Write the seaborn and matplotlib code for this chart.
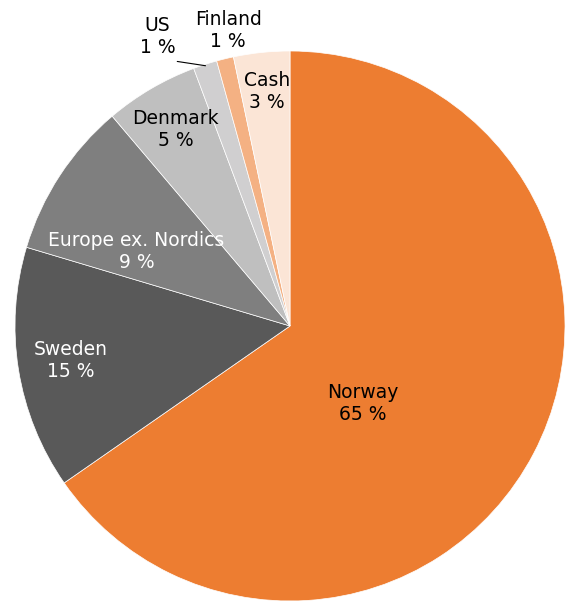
import matplotlib
matplotlib.use("Agg")
import matplotlib.pyplot as plt
import seaborn as sns
import numpy as np

# --- data ---
regions = ['Norway', 'Sweden', 'Europe ex. Nordics', 'Denmark', 'US', 'Finland', 'Cash']
shares = [65.4, 14.3, 9.2, 5.5, 1.4, 1.0, 3.3]
share_labels = ['65 %', '15 %', '9 %', '5 %', '1 %', '1 %', '3 %']
colors = ['#ED7D31', '#595959', '#7F7F7F', '#BFBFBF', '#D0CFD0', '#F4B183', '#FBE5D6']
text_colors = ['black', 'white', 'white', 'black', 'black', 'black', 'black']

# label centres in pie units (radius = 1)
label_pos = [(0.264, -0.283), (-0.797, -0.127), (-0.558, 0.272), (-0.417, 0.714),
             (-0.482, 1.051), (-0.225, 1.076), (-0.083, 0.851)]

sns.set_theme(style='white')
plt.rcParams['font.family'] = ['DejaVu Sans']

fig = plt.figure(figsize=(5.69, 6.06), dpi=100)
ax = fig.add_axes([15 / 569, 4 / 606, 550 / 569, 552 / 606])

wedges, _ = ax.pie(shares, colors=colors, startangle=90, counterclock=False,
                   radius=1.0, wedgeprops=dict(edgecolor='white', linewidth=0.5))

for name, lab, (x, y), c in zip(regions, share_labels, label_pos, text_colors):
    ax.text(x, y, f'{name}\n{lab}', ha='center', va='center', color=c,
            fontsize=13.5, linespacing=1.2)

# leader line for the US slice
us = wedges[regions.index('US')]
mid = np.deg2rad((us.theta1 + us.theta2) / 2)
ax.plot([-0.41, np.cos(mid) * 0.995], [0.962, np.sin(mid) * 0.995],
        color='black', linewidth=0.8, clip_on=False)

ax.set_xlim(-1, 1)
ax.set_ylim(-1, 1)
ax.set_axis_off()

plt.savefig('out.png', dpi=100)
